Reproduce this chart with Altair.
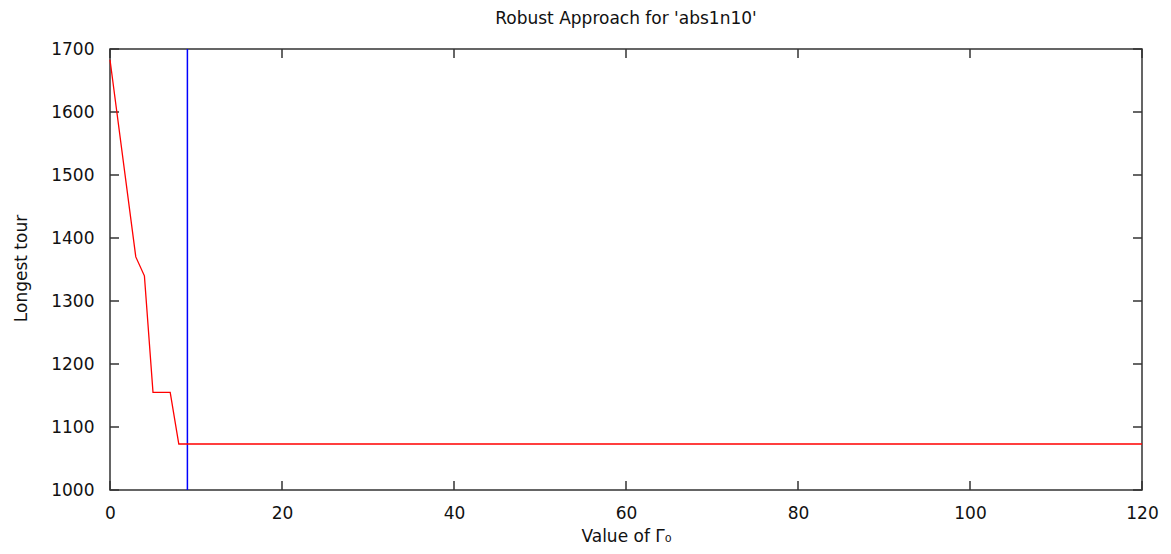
import altair as alt
import pandas as pd

# Data
gamma = [0, 3, 4, 5, 7, 8, 120]
longest = [1683, 1370, 1340, 1155, 1155, 1073, 1073]
chosen_gamma = [9]
x_ticks = [0, 20, 40, 60, 80, 100, 120]
y_ticks = [1000, 1100, 1200, 1300, 1400, 1500, 1600, 1700]
title_text = ["Robust Approach for 'abs1n10'"]

W, H = 1032, 441
FONT = "DejaVu Sans"
FS = 17
TICK_LEN = 9
AXIS_COL = "#333333"
TEXT_COL = "#111111"

line_df = pd.DataFrame({"g": gamma, "v": longest})
vline_df = pd.DataFrame({"g": chosen_gamma})
xt_df = pd.DataFrame({"g": x_ticks})
yt_df = pd.DataFrame({"v": y_ticks})
title_df = pd.DataFrame({"t": title_text})

xscale = alt.Scale(domain=[0, 120], nice=False, zero=False)
yscale = alt.Scale(domain=[1000, 1700], nice=False, zero=False)

xaxis = alt.Axis(
    values=x_ticks, format="d", title="Value of Γ₀", grid=False, domain=False, ticks=False,
    labelFont=FONT, labelFontSize=FS, labelColor=TEXT_COL, labelPadding=28,
    labelBaseline="alphabetic", labelFlush=False,
    titleFont=FONT, titleFontSize=FS, titleFontWeight="normal", titleColor=TEXT_COL,
    titleBaseline="alphabetic", titleY=51,
)
yaxis = alt.Axis(
    values=y_ticks, format="d", title="Longest tour", grid=False, domain=False, ticks=False,
    labelFont=FONT, labelFontSize=FS, labelColor=TEXT_COL, labelPadding=16,
    labelFlush=False,
    titleFont=FONT, titleFontSize=FS, titleFontWeight="normal", titleColor=TEXT_COL,
    titleBaseline="alphabetic", titleX=-84, titleY=219,
)

red = alt.Chart(line_df).mark_line(color="#ff0000", strokeWidth=1.3).encode(
    x=alt.X("g:Q", scale=xscale, axis=xaxis),
    y=alt.Y("v:Q", scale=yscale, axis=yaxis),
)

blue = alt.Chart(vline_df).mark_rule(color="#0000ff", strokeWidth=1.5).encode(
    x=alt.X("g:Q", scale=xscale),
)

left_ticks = alt.Chart(yt_df).mark_rule(color=AXIS_COL, strokeWidth=1.5).encode(
    y=alt.Y("v:Q", scale=yscale), x=alt.value(0), x2=alt.value(TICK_LEN)
)
right_ticks = alt.Chart(yt_df).mark_rule(color=AXIS_COL, strokeWidth=1.5).encode(
    y=alt.Y("v:Q", scale=yscale), x=alt.value(W - TICK_LEN), x2=alt.value(W)
)
bottom_ticks = alt.Chart(xt_df).mark_rule(color=AXIS_COL, strokeWidth=1.5).encode(
    x=alt.X("g:Q", scale=xscale), y=alt.value(H - TICK_LEN), y2=alt.value(H)
)
top_ticks = alt.Chart(xt_df).mark_rule(color=AXIS_COL, strokeWidth=1.5).encode(
    x=alt.X("g:Q", scale=xscale), y=alt.value(0), y2=alt.value(TICK_LEN)
)

title = alt.Chart(title_df).mark_text(
    font=FONT, fontSize=FS, color=TEXT_COL, align="center", baseline="alphabetic"
).encode(
    text="t:N", x=alt.value(W / 2), y=alt.value(-25)
)

chart = alt.layer(
    left_ticks, right_ticks, bottom_ticks, top_ticks, blue, red, title
).properties(
    width=W,
    height=H,
    autosize=alt.AutoSizeParams(type="none"),
    padding={"left": 102, "top": 41, "right": 21, "bottom": 56},
).configure(
    background="white",
    view=alt.ViewConfig(stroke=AXIS_COL, strokeWidth=1.5),
)

chart.save("out.html", embed_options={"renderer": "svg", "actions": False})
